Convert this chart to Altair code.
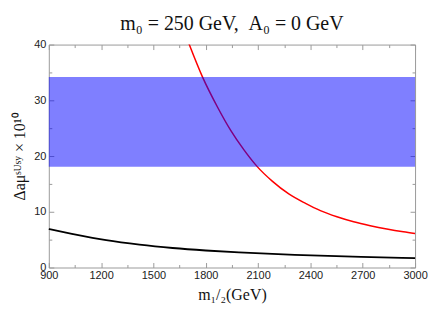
import altair as alt
import pandas as pd

# --- data ---
red_x = [1703, 1781, 1867, 1943, 2019, 2095, 2181, 2276, 2372, 2457, 2552, 2648, 2743, 2838, 2933, 3000]
red_y = [40.2, 34.2, 28.8, 24.6, 21.1, 18.1, 15.5, 13.2, 11.5, 10.2, 9.1, 8.2, 7.5, 6.9, 6.4, 6.1]
black_x = [900, 1039, 1229, 1420, 1610, 1800, 1990, 2310, 2691, 3000]
black_y = [6.9, 6.0, 4.9, 4.1, 3.5, 3.05, 2.7, 2.25, 1.9, 1.7]
band_low = [18.1]
band_high = [34.2]

x_ticks = list(range(900, 3001, 150))
y_ticks = list(range(0, 41, 5))

red = pd.DataFrame({"m": red_x, "a": red_y})
black = pd.DataFrame({"m": black_x, "a": black_y})
band = pd.DataFrame({"lo": band_low, "hi": band_high})

AX = "#9a9a9a"
LBL_FONT = "Liberation Sans"
TTL_FONT = "Liberation Serif"
NB = "\u00a0"

xscale = alt.Scale(domain=[900, 3000], nice=False, zero=False)
yscale = alt.Scale(domain=[0, 40], nice=False, zero=False)

x_major = "datum.value % 300 == 0"
y_major = "datum.value % 10 == 0"

x_tick_size = {"condition": {"test": x_major, "value": -5}, "value": -3}
y_tick_size = {"condition": {"test": y_major, "value": -5}, "value": -3}

x_bottom = alt.Axis(values=x_ticks, labelExpr=f"{x_major} ? datum.label : ''",
                    tickSize=x_tick_size, tickColor=AX, domain=False, grid=False,
                    labelFont=LBL_FONT, labelFontSize=11, labelColor="#222",
                    labelPadding=7, labelFlush=False, labelOverlap=False,
                    title="m₁/₂(GeV)", titleFont=TTL_FONT,
                    titleFontSize=16, titleFontWeight="normal", titleColor="#111",
                    titlePadding=4, format="d")
x_top = alt.Axis(orient="top", values=x_ticks, labels=False, tickSize=x_tick_size,
                 tickColor=AX, domain=False, grid=False, title=None)
y_left = alt.Axis(values=y_ticks, labelExpr=f"{y_major} ? datum.label : ''",
                  tickSize=y_tick_size, tickColor=AX, domain=False, grid=False,
                  labelFont=LBL_FONT, labelFontSize=11, labelColor="#222",
                  labelPadding=8, labelFlush=False, labelOverlap=False,
                  title="Δaμˢᵁˢʸ × 10¹⁰", titleFont=TTL_FONT,
                  titleFontSize=16, titleFontWeight="normal", titleColor="#111",
                  titlePadding=6)
y_right = alt.Axis(orient="right", values=y_ticks, labels=False, tickSize=y_tick_size,
                   tickColor=AX, domain=False, grid=False, title=None)

black_line = alt.Chart(black).mark_line(color="black", strokeWidth=1.8,
                                         interpolate="monotone").encode(
    x=alt.X("m:Q", scale=xscale, axis=x_bottom),
    y=alt.Y("a:Q", scale=yscale, axis=y_left),
)
red_line = alt.Chart(red).mark_line(color="#ff0000", strokeWidth=1.5,
                                     interpolate="monotone", clip=True).encode(
    x=alt.X("m:Q", scale=xscale, axis=x_top),
    y=alt.Y("a:Q", scale=yscale, axis=y_right),
)
band_rect = alt.Chart(band).mark_rect(color="#0000ff", opacity=0.5).encode(
    y=alt.Y("lo:Q", scale=yscale, axis=None),
    y2="hi:Q",
)

chart = alt.layer(black_line, red_line, band_rect).resolve_axis(
    x="independent", y="independent"
).properties(
    width=368, height=224,
    autosize=alt.AutoSizeParams(type="none"),
    padding={"left": 41, "top": 36, "right": 13, "bottom": 51},
    title=alt.Title(f"m₀ = 250 GeV,{NB}{NB}A₀ = 0 GeV", font=TTL_FONT, fontSize=20,
                    fontWeight="normal", color="#111", offset=5),
).configure_view(stroke=AX, strokeWidth=1)

chart.save("out.html", embed_options={"renderer": "svg", "actions": False})
